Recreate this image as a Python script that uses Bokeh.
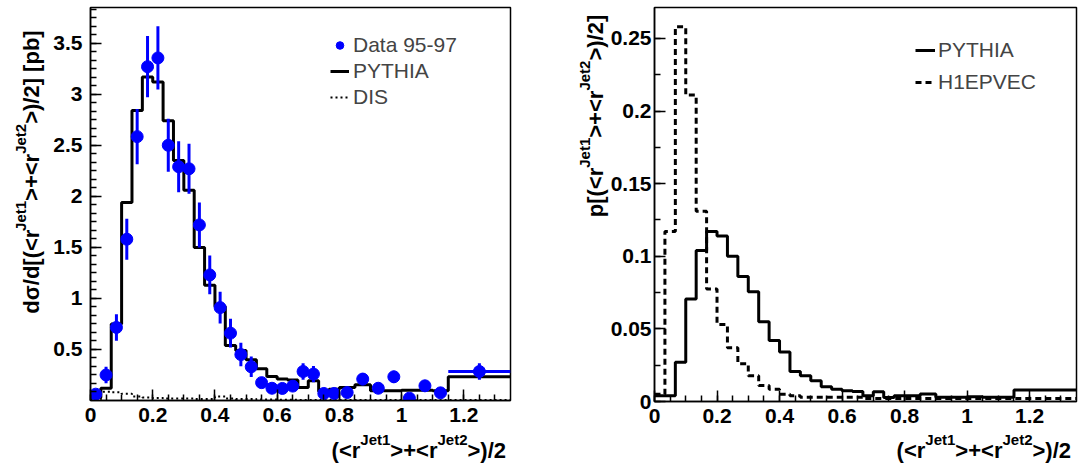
import math
import numpy as np
from bokeh.plotting import figure
from bokeh.models import (FixedTicker, CustomJSTickFormatter, Label, Legend,
                          LegendItem, Range1d, GridBox)
from bokeh.embed import file_html
from bokeh.resources import INLINE

# ---------------- data ----------------
bin_edges = [0.0, 0.03333, 0.06667, 0.1, 0.13333, 0.16667, 0.2, 0.23333, 0.26667,
             0.3, 0.33333, 0.36667, 0.4, 0.43333, 0.46667, 0.5, 0.53333, 0.56667,
             0.6, 0.63333, 0.66667, 0.7, 0.73333, 0.76667, 0.8, 0.85, 0.9, 0.95,
             1.0, 1.05, 1.1, 1.15, 1.35]

pythia_xsec = [0.03, 0.12, 0.75, 1.94, 2.84, 3.17, 3.12, 2.74, 2.35, 2.06, 1.50,
               1.13, 0.92, 0.54, 0.49, 0.40, 0.31, 0.235, 0.21, 0.20, 0.128, 0.193,
               0.088, 0.11, 0.128, 0.154, 0.095, 0.095, 0.10, 0.10, 0.095, 0.232]

dis_xsec = [0.01, 0.085, 0.08, 0.065, 0.04, 0.03, 0.025, 0.02, 0.02, 0.02, 0.015,
            0.015, 0.04, 0.02, 0.015, 0.015, 0.01, 0.01, 0.008, 0.008, 0.006, 0.006,
            0.005, 0.005, 0.005, 0.005, 0.005, 0.005, 0.005, 0.005, 0.005, 0.005]

data_xsec = [0.062, 0.25, 0.716, 1.58, 2.585, 3.27, 3.356, 2.50, 2.29, 2.27, 1.72,
             1.23, 0.91, 0.66, 0.45, 0.33, 0.175, 0.12, 0.118, 0.141, 0.284, 0.259,
             0.069, 0.069, 0.078, 0.21, 0.12, 0.232, 0.023, 0.144, 0.075, 0.284]

data_err = [0.03, 0.08, 0.13, 0.20, 0.27, 0.30, 0.31, 0.26, 0.25, 0.245, 0.22,
            0.19, 0.155, 0.14, 0.115, 0.10, 0.05, 0.04, 0.04, 0.05, 0.08, 0.08,
            0.04, 0.04, 0.04, 0.06, 0.04, 0.06, 0.03, 0.05, 0.04, 0.08]

data_xerr = [0, 0, 0, 0, 0, 0, 0, 0, 0, 0, 0, 0, 0, 0, 0, 0,
             0, 0, 0, 0, 0, 0, 0, 0, 0, 0, 0, 0, 0, 0, 0, 0.1]

pythia_prob = [0.004, 0.004, 0.027, 0.0706, 0.104, 0.117, 0.114, 0.100, 0.086,
               0.0756, 0.055, 0.042, 0.034, 0.0207, 0.0177, 0.0143, 0.0101, 0.0085,
               0.0074, 0.0068, 0.004, 0.0067, 0.0028, 0.0039, 0.0039, 0.0051, 0.003,
               0.003, 0.0032, 0.003, 0.003, 0.008]

h1epvec_prob = [0.005, 0.117, 0.258, 0.211, 0.131, 0.0775, 0.053, 0.037, 0.026,
                0.0177, 0.011, 0.0085, 0.005, 0.004, 0.003, 0.003, 0.003, 0.003,
                0.003, 0.003, 0.002, 0.002, 0.002, 0.002, 0.002, 0.002, 0.002,
                0.002, 0.002, 0.002, 0.002, 0.002]

x_ticks = [0, 0.2, 0.4, 0.6, 0.8, 1.0, 1.2]
left_y_ticks = [0.5, 1.0, 1.5, 2.0, 2.5, 3.0, 3.5]
right_y_ticks = [0, 0.05, 0.1, 0.15, 0.2, 0.25]

legend_left = ["Data 95-97", "PYTHIA", "DIS"]
legend_right = ["PYTHIA", "H1EPVEC"]

x_title = [("(<r", False), ("Jet1", True), (">+<r", False), ("Jet2", True), (">)/2", False)]
left_y_title = [("d\u03c3/d[(<r", False), ("Jet1", True), (">+<r", False), ("Jet2", True),
                (">)/2] [pb]", False)]
right_y_title = [("p[(<r", False), ("Jet1", True), (">+<r", False), ("Jet2", True),
                 (">)/2]", False)]

# ---------------- style ----------------
FONT = "Liberation Sans"
X_MAX = 1.35
LEFT_Y_MAX = 3.85
RIGHT_Y_MAX = 0.2713
W, H = 1079, 469
OFF = 540

edges = np.array(bin_edges)
centers = 0.5 * (edges[:-1] + edges[1:])


def steps(vals):
    return list(vals) + [vals[-1]]


def make_fig(width, bl, br, bt, bb, y_max, y_ticks, y_minor, y_standoff):
    p = figure(width=width, height=H, x_range=Range1d(0, X_MAX),
               y_range=Range1d(0, y_max), output_backend="svg",
               toolbar_location=None, title=None,
               min_border_left=bl, min_border_right=br,
               min_border_top=bt, min_border_bottom=bb)
    p.frame_align = False
    p.grid.visible = False
    p.outline_line_color = "black"
    p.outline_line_width = 1.5
    p.background_fill_color = "white"
    p.border_fill_color = "white"
    p.xaxis.ticker = FixedTicker(ticks=x_ticks,
                                 minor_ticks=list(np.round(np.arange(0, 27) * 0.05, 4)))
    p.yaxis.ticker = FixedTicker(ticks=y_ticks, minor_ticks=y_minor)
    for ax in (p.xaxis[0], p.yaxis[0]):
        ax.axis_line_width = 1.5
        ax.major_tick_in = 11
        ax.major_tick_out = 0
        ax.minor_tick_in = 6
        ax.minor_tick_out = 0
        ax.major_tick_line_width = 1.5
        ax.minor_tick_line_width = 1.5
        ax.major_label_text_font = FONT
        ax.major_label_text_font_style = "bold"
        ax.major_label_text_font_size = "21px"
        ax.major_label_text_color = "black"
        ax.formatter = CustomJSTickFormatter(
            code="return String(Math.round(tick*1000)/1000);")
    p.xaxis.major_label_standoff = 7
    p.yaxis.major_label_standoff = y_standoff
    return p


# ---------------- left panel ----------------
LF = dict(left=90, right=510, top=7, bottom=400)
left_minor = list(np.round(np.arange(1, 47) * 0.5 / 6, 5))
p1 = make_fig(OFF, LF["left"], OFF - LF["right"], LF["top"], H - LF["bottom"],
              LEFT_Y_MAX, left_y_ticks, left_minor, 8)

r_dis = p1.step(x=bin_edges, y=steps(dis_xsec), mode="after", line_color="black",
                line_width=2, line_dash="2 3")
r_py = p1.step(x=bin_edges, y=steps(pythia_xsec), mode="after", line_color="black",
               line_width=3)
dx = np.array(data_xsec)
de = np.array(data_err)
dxe = np.array(data_xerr)
p1.segment(x0=centers, y0=dx - de, x1=centers, y1=dx + de, line_color="blue",
           line_width=3)
p1.segment(x0=centers - dxe, y0=dx, x1=centers + dxe, y1=dx, line_color="blue",
           line_width=3)
r_data = p1.scatter(x=centers, y=dx, size=12, marker="circle", fill_color="blue",
                    line_color="blue")

leg1 = Legend(items=[LegendItem(label=legend_left[0], renderers=[r_data]),
                     LegendItem(label=legend_left[1], renderers=[r_py]),
                     LegendItem(label=legend_left[2], renderers=[r_dis])],
              location=(240, 290), padding=0, spacing=0, margin=0,
              glyph_width=19, glyph_height=26, label_height=26, label_standoff=4,
              label_text_font=FONT, label_text_font_size="21px",
              border_line_color=None, background_fill_alpha=0)
p1.add_layout(leg1)

# ---------------- right panel ----------------
RF = dict(left=654 - OFF, right=1076 - OFF, top=7, bottom=401)
right_minor = list(np.round(np.arange(0, 11) * 0.025, 4))
p2 = make_fig(W - OFF, RF["left"], W - OFF - RF["right"], RF["top"],
              H - RF["bottom"], RIGHT_Y_MAX, right_y_ticks, right_minor, 3)

r_h1 = p2.step(x=bin_edges, y=steps(h1epvec_prob), mode="after", line_color="black",
               line_width=3, line_dash="6 4")
r_py2 = p2.step(x=bin_edges, y=steps(pythia_prob), mode="after", line_color="black",
                line_width=3)

leg2 = Legend(items=[LegendItem(label=legend_right[0], renderers=[r_py2]),
                     LegendItem(label=legend_right[1], renderers=[r_h1])],
              location=(261, 303), padding=0, spacing=0, margin=0,
              glyph_width=20, glyph_height=32, label_height=32, label_standoff=3,
              label_text_font=FONT, label_text_font_size="21px",
              border_line_color=None, background_fill_alpha=0)
p2.add_layout(leg2)

# ---------------- transparent overlay for axis titles (pixel coordinates) ----
ov = figure(width=W, height=H, x_range=Range1d(0, W), y_range=Range1d(H, 0),
            output_backend="svg", toolbar_location=None, title=None,
            x_axis_type=None, y_axis_type=None,
            min_border_left=0, min_border_right=0, min_border_top=0,
            min_border_bottom=0)
ov.frame_align = False
ov.grid.visible = False
ov.outline_line_color = None
ov.background_fill_color = None
ov.border_fill_color = None
ov.background_fill_alpha = 0
ov.border_fill_alpha = 0

# Arial/Liberation Sans Bold advance widths (per 1000 em)
WB = {"(": 333, ")": 333, "<": 584, ">": 584, "+": 584, "/": 278, "[": 333,
      "]": 333, " ": 278, "r": 389, "J": 556, "e": 556, "t": 333, "1": 556,
      "2": 556, "d": 611, "p": 611, "b": 611, "\u03c3": 620}
MAIN, SUP, RAISE = 22, 15, 14
MID = 0.30  # distance baseline -> middle line, in em


def tw(s, size):
    return sum(WB.get(c, 556) for c in s) * size / 1000.0


def add_title(pieces, center, base, vertical):
    sizes = [SUP if sup else MAIN for _, sup in pieces]
    total = sum(tw(t, s) for (t, _), s in zip(pieces, sizes))
    pos = center + total / 2 if vertical else center - total / 2
    for (t, sup), s in zip(pieces, sizes):
        off = (RAISE if sup else 0) + MID * s
        if vertical:
            x, y, ang = base - off, pos, math.pi / 2
            pos -= tw(t, s)
        else:
            x, y, ang = pos, base - off, 0
            pos += tw(t, s)
        ov.add_layout(Label(x=x, y=y, text=t, angle=ang, text_align="left",
                            text_baseline="middle", text_font=FONT,
                            text_font_style="bold", text_font_size=f"{s}px",
                            text_color="black"))


add_title(x_title, 418.3, 457, False)
add_title(x_title, 983.3, 457, False)
add_title(left_y_title, 171.5, 38, True)
add_title(right_y_title, 115.5, 602, True)

layout = GridBox(children=[(p1, 0, 0), (p2, 0, 1), (ov, 0, 0, 1, 2)], spacing=0)
open("out.html", "w").write(file_html(layout, INLINE))
